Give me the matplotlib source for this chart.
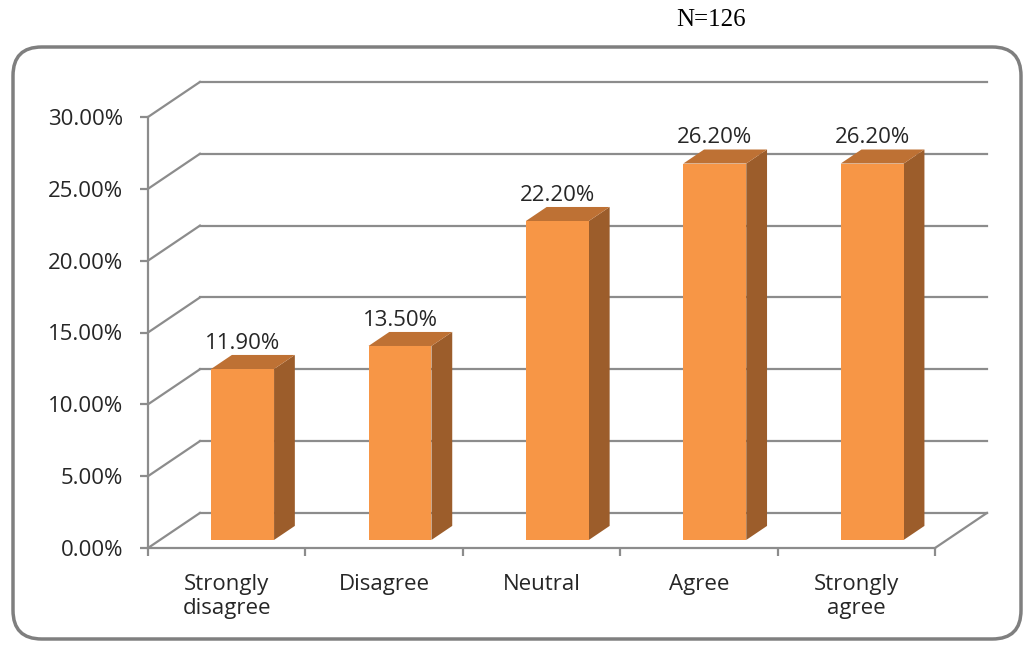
import matplotlib.pyplot as plt
from matplotlib.patches import Polygon, FancyBboxPatch

# survey responses (percent of N=126)
categories = ["Strongly\ndisagree", "Disagree", "Neutral", "Agree", "Strongly\nagree"]
values = [11.9, 13.5, 22.2, 26.2, 26.2]
yticks = [0, 5, 10, 15, 20, 25, 30]

front_col = "#F79646"
side_col = "#9C5D2B"
top_col = "#BE7134"
grid_col = "#8C8C8C"
text_col = "#262626"
fs = 16

plt.rcParams["font.family"] = ["Open Sans", "DejaVu Sans"]

fig = plt.figure(figsize=(10.24, 6.45), dpi=100)

# rounded frame around the chart
frame = FancyBboxPatch((13 / 1024, 1 - 639 / 645), (1021 - 13) / 1024, (639 - 47) / 645,
                       boxstyle="round,pad=0,rounding_size=0.028",
                       transform=fig.transFigure, facecolor="white",
                       edgecolor="#7F7F7F", linewidth=2.5, mutation_aspect=1024 / 645,
                       zorder=-1)
fig.patches.append(frame)

fig.text(711 / 1024, 1 - 20 / 645, "N=126", family="Liberation Serif", fontsize=18,
         ha="center", va="center", color="black")

ax = fig.add_axes([148 / 1024, (645 - 548) / 645, 787 / 1024, 431 / 645])
ax.set_xlim(-0.5, 4.5)
ax.set_ylim(0, 30)
ax.patch.set_visible(False)

# depth of the 3d box in data units
DX = 0.33
DY = 2.44

def proj(x, y, d):
    return (x + d * DX, y + d * DY)

# back wall gridlines and left wall diagonals
for v in yticks:
    x0, y0 = proj(-0.5, v, 1)
    x1, y1 = proj(4.5, v, 1)
    ax.plot([x0, x1], [y0, y1], color=grid_col, lw=1.6, clip_on=False, zorder=1)
    ax.plot([-0.5, x0], [v, y0], color=grid_col, lw=1.6, clip_on=False, zorder=1)
# floor right edge
xr, yr = proj(4.5, 0, 1)
ax.plot([4.5, xr], [0, yr], color=grid_col, lw=1.6, clip_on=False, zorder=1)

# 3d bars
w = 0.4
d0, d1 = 0.23, 0.63
for i, h in enumerate(values):
    xl = i - w / 2 + 0.025
    xr_ = xl + w
    front = [proj(xl, 0, d0), proj(xr_, 0, d0), proj(xr_, h, d0), proj(xl, h, d0)]
    side = [proj(xr_, 0, d0), proj(xr_, 0, d1), proj(xr_, h, d1), proj(xr_, h, d0)]
    top = [proj(xl, h, d0), proj(xr_, h, d0), proj(xr_, h, d1), proj(xl, h, d1)]
    for pts, c in [(side, side_col), (top, top_col), (front, front_col)]:
        ax.add_patch(Polygon(pts, closed=True, facecolor=c, edgecolor="none",
                             clip_on=False, zorder=3))
    lx, _ = proj(xl + w / 2, 0, d0)
    ly = h + d1 * DY
    ax.annotate(f"{h:.2f}%", (lx, ly), xytext=(0, 1), textcoords="offset points",
                ha="center", va="bottom", fontsize=fs, color=text_col, zorder=4)

# axes
for s in ["top", "right"]:
    ax.spines[s].set_visible(False)
for s in ["left", "bottom"]:
    ax.spines[s].set_color(grid_col)
    ax.spines[s].set_linewidth(1.6)

ax.set_yticks(yticks)
ax.set_yticklabels([f"{v:.2f}%" for v in yticks])
ax.tick_params(axis="y", length=6, width=1.6, color=grid_col, pad=12,
               labelsize=fs, labelcolor=text_col)

ax.set_xticks([i - 0.5 for i in range(len(categories) + 1)])
ax.set_xticklabels([])
ax.set_xticks(range(len(categories)), minor=True)
ax.set_xticklabels(categories, minor=True, linespacing=1.15)
ax.tick_params(axis="x", which="major", length=6, width=1.6, color=grid_col)
ax.tick_params(axis="x", which="minor", length=0, pad=19,
               labelsize=fs, labelcolor=text_col)

fig.savefig("out.png", dpi=100)
